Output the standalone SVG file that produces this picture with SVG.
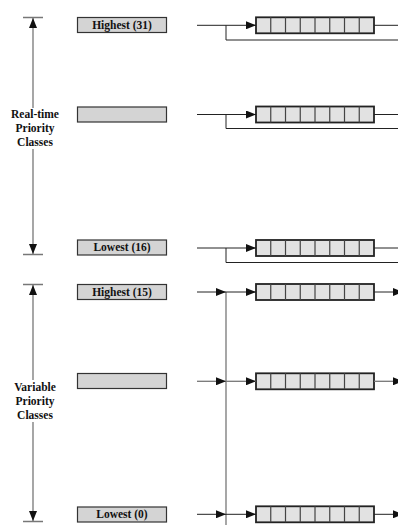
<svg xmlns="http://www.w3.org/2000/svg" width="398" height="525" viewBox="0 0 398 525">
<style>
.box{fill:#d4d4d4;stroke:#333;stroke-width:1.2}
.lbl{font-family:"Liberation Serif","Times New Roman",serif;font-weight:bold;font-size:11.5px;fill:#111;text-anchor:middle}
.qo{fill:#e2e2e2;stroke:#222;stroke-width:1.8}
.qc{stroke:#444;stroke-width:1.2;fill:none}
.ln{stroke:#222;stroke-width:1;fill:none}
.gl{stroke:#777;stroke-width:1.3;fill:none}
</style>
<defs>
<marker id="ah" markerUnits="userSpaceOnUse" markerWidth="10" markerHeight="8" refX="10" refY="4" orient="auto">
<path d="M0,0 L10,4 L0,8 Z" fill="#111"/>
</marker>
<g id="cells">
<rect class="qo" x="256" y="0" width="118" height="16"/>
<path class="qc" d="M270.75,0V16M285.5,0V16M300.25,0V16M315,0V16M329.75,0V16M344.5,0V16M359.25,0V16"/>
</g>
</defs>

<g id="rt-class">
<path class="gl" d="M23,17.5H43M23,254.5H43"/>
<path class="gl" d="M33,108V18" marker-end="url(#ah)"/>
<path class="gl" d="M33,149V254" marker-end="url(#ah)"/>
<text class="lbl" x="35" y="117.5">Real-time</text>
<text class="lbl" x="35" y="131.5">Priority</text>
<text class="lbl" x="35" y="145.5">Classes</text>
</g>
<g id="var-class">
<path class="gl" d="M23,284.5H43M23,521.5H43"/>
<path class="gl" d="M33,380V285" marker-end="url(#ah)"/>
<path class="gl" d="M33,422V521" marker-end="url(#ah)"/>
<text class="lbl" x="35" y="390.5">Variable</text>
<text class="lbl" x="35" y="404.5">Priority</text>
<text class="lbl" x="35" y="418.5">Classes</text>
</g>

<g id="p31"><rect class="box" x="77.5" y="17.5" width="89" height="15"/><text class="lbl" x="122" y="28.8">Highest (31)</text></g>
<g id="p-rt-mid"><rect class="box" x="77.5" y="107" width="89" height="15"/></g>
<g id="p16"><rect class="box" x="77.5" y="240" width="89" height="15"/><text class="lbl" x="122" y="251.3">Lowest (16)</text></g>
<g id="p15"><rect class="box" x="77.5" y="284.5" width="89" height="15"/><text class="lbl" x="122" y="295.8">Highest (15)</text></g>
<g id="p-var-mid"><rect class="box" x="77.5" y="373.5" width="89" height="15"/></g>
<g id="p0"><rect class="box" x="77.5" y="507" width="89" height="15"/><text class="lbl" x="122" y="518.3">Lowest (0)</text></g>

<g id="q31"><use href="#cells" y="17.3"/></g>
<g id="q-rt-mid"><use href="#cells" y="106.5"/></g>
<g id="q16"><use href="#cells" y="240"/></g>
<g id="q15"><use href="#cells" y="284"/></g>
<g id="q-var-mid"><use href="#cells" y="373.3"/></g>
<g id="q0"><use href="#cells" y="506.3"/></g>

<g id="connectors">
<path class="ln" d="M197,25.3H256" marker-end="url(#ah)"/>
<path class="ln" d="M226,25.3V40H398M374,25.3H398"/>
<path class="ln" d="M197,114.5H256" marker-end="url(#ah)"/>
<path class="ln" d="M226,114.5V128.5H398M374,114.5H398"/>
<path class="ln" d="M197,248H256" marker-end="url(#ah)"/>
<path class="ln" d="M226,248V262.5H398M374,248H398"/>
<path class="gl" d="M226,292V525"/>
<path class="ln" d="M197,292H226" marker-end="url(#ah)"/>
<path class="ln" d="M226,292H256" marker-end="url(#ah)"/>
<path class="ln" d="M374,292H403" marker-end="url(#ah)"/>
<path class="gl" d="M197,381.3H226" marker-end="url(#ah)"/>
<path class="gl" d="M226,381.3H256" marker-end="url(#ah)"/>
<path class="gl" d="M374,381.3H403" marker-end="url(#ah)"/>
<path class="ln" d="M197,514.3H226" marker-end="url(#ah)"/>
<path class="ln" d="M226,514.3H256" marker-end="url(#ah)"/>
<path class="ln" d="M374,514.3H403" marker-end="url(#ah)"/>
</g>
</svg>
